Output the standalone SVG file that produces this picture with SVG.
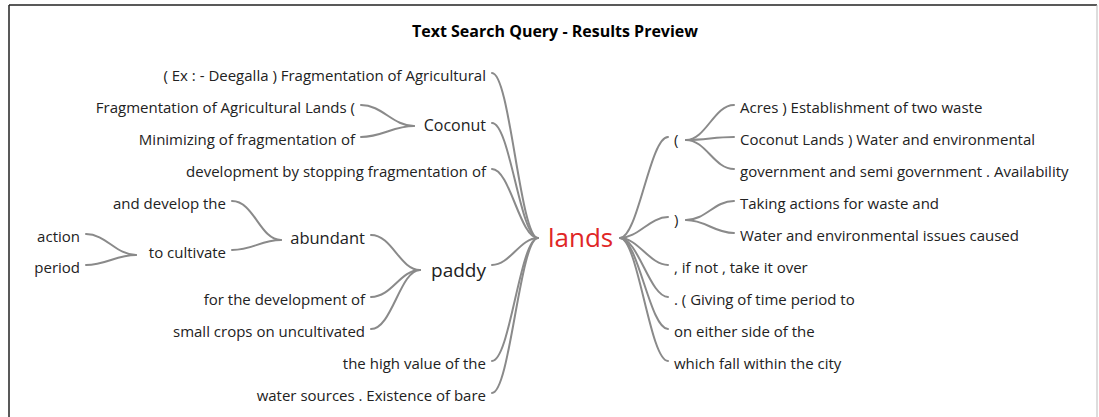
<svg xmlns="http://www.w3.org/2000/svg" width="1099" height="417" viewBox="0 0 1099 417">
<style>
text{font-family:"Open Sans","Noto Sans",sans-serif;fill:#222;font-size:15px}
.l{text-anchor:end}
.title{font-weight:bold;font-size:16px;text-anchor:middle;fill:#000}
.key{fill:#e02626;font-size:26px}
.c{fill:none;stroke:#8a8a8a;stroke-width:2;stroke-linecap:round}
</style>
<rect x="0" y="0" width="1099" height="417" fill="#fff"/>
<g id="frame">
<line x1="9" y1="5" x2="1097" y2="5" stroke="#222" stroke-width="1.5"/>
<line x1="9" y1="5" x2="9" y2="417" stroke="#222" stroke-width="1.5"/>
<line x1="1097" y1="5" x2="1097" y2="417" stroke="#bbb" stroke-width="1"/>
</g>
<text class="title" x="555" y="37">Text Search Query - Results Preview</text>
<g id="connectors">
<path class="c" d="M492 73 C510 73,520 238,538 238"/>
<path class="c" d="M492 123 C510 123,520 238,538 238"/>
<path class="c" d="M492 169 C510 169,520 238,538 238"/>
<path class="c" d="M492 265 C510 265,520 238,538 238"/>
<path class="c" d="M492 361 C510 361,520 238,538 238"/>
<path class="c" d="M492 393 C510 393,520 238,538 238"/>
<path class="c" d="M361 105 C382 105,393 126,414 126"/>
<path class="c" d="M361 137 C382 137,393 126,414 126"/>
<path class="c" d="M371 235 C392 235,400 270,420 270"/>
<path class="c" d="M371 297 C392 297,400 270,420 270"/>
<path class="c" d="M371 329 C392 329,400 270,420 270"/>
<path class="c" d="M232 201 C254 201,260 240,281 240"/>
<path class="c" d="M232 250 C254 250,260 240,281 240"/>
<path class="c" d="M86 234 C106 234,116 255,136 255"/>
<path class="c" d="M86 265 C106 265,116 255,136 255"/>
<path class="c" d="M620 238 C638 238,650 137,668 137"/>
<path class="c" d="M620 238 C638 238,650 217,668 217"/>
<path class="c" d="M620 238 C638 238,650 265,668 265"/>
<path class="c" d="M620 238 C638 238,650 297,668 297"/>
<path class="c" d="M620 238 C638 238,650 329,668 329"/>
<path class="c" d="M620 238 C638 238,650 361,668 361"/>
<path class="c" d="M686 140 C706 140,714 105,734 105"/>
<path class="c" d="M686 140 C706 140,714 137,734 137"/>
<path class="c" d="M686 140 C706 140,714 169,734 169"/>
<path class="c" d="M686 220 C706 220,714 201,734 201"/>
<path class="c" d="M686 220 C706 220,714 233,734 233"/>
</g>
<g id="n-lands"><text class="key" x="548" y="247">lands</text></g>
<g id="n-ex"><text class="l" x="486" y="81">( Ex : - Deegalla ) Fragmentation of Agricultural</text></g>
<g id="n-coconut"><text class="l" x="486" y="131" style="font-size:16px">Coconut</text></g>
<g id="n-fraglands"><text class="l" x="355" y="113">Fragmentation of Agricultural Lands (</text></g>
<g id="n-minimizing"><text class="l" x="355" y="145">Minimizing of fragmentation of</text></g>
<g id="n-dev"><text class="l" x="486" y="177">development by stopping fragmentation of</text></g>
<g id="n-anddevelop"><text class="l" x="226" y="209">and develop the</text></g>
<g id="n-abundant"><text class="l" x="365" y="244" style="font-size:16.5px">abundant</text></g>
<g id="n-action"><text class="l" x="80" y="242">action</text></g>
<g id="n-tocultivate"><text class="l" x="226" y="258">to cultivate</text></g>
<g id="n-period"><text class="l" x="80" y="273">period</text></g>
<g id="n-paddy"><text class="l" x="486" y="277" style="font-size:19px">paddy</text></g>
<g id="n-fordev"><text class="l" x="365" y="305">for the development of</text></g>
<g id="n-small"><text class="l" x="365" y="337">small crops on uncultivated</text></g>
<g id="n-high"><text class="l" x="486" y="369">the high value of the</text></g>
<g id="n-water"><text class="l" x="486" y="401">water sources . Existence of bare</text></g>
<g id="n-open"><text x="674" y="145">(</text></g>
<g id="n-acres"><text x="740" y="113">Acres ) Establishment of two waste</text></g>
<g id="n-coconutlands"><text x="740" y="145">Coconut Lands ) Water and environmental</text></g>
<g id="n-government"><text x="740" y="177">government and semi government . Availability</text></g>
<g id="n-close"><text x="674" y="225">)</text></g>
<g id="n-taking"><text x="740" y="209">Taking actions for waste and</text></g>
<g id="n-waterenv"><text x="740" y="241">Water and environmental issues caused</text></g>
<g id="n-ifnot"><text x="674" y="273">, if not , take it over</text></g>
<g id="n-giving"><text x="674" y="305">. ( Giving of time period to</text></g>
<g id="n-either"><text x="674" y="337">on either side of the</text></g>
<g id="n-which"><text x="674" y="369">which fall within the city</text></g>
</svg>
